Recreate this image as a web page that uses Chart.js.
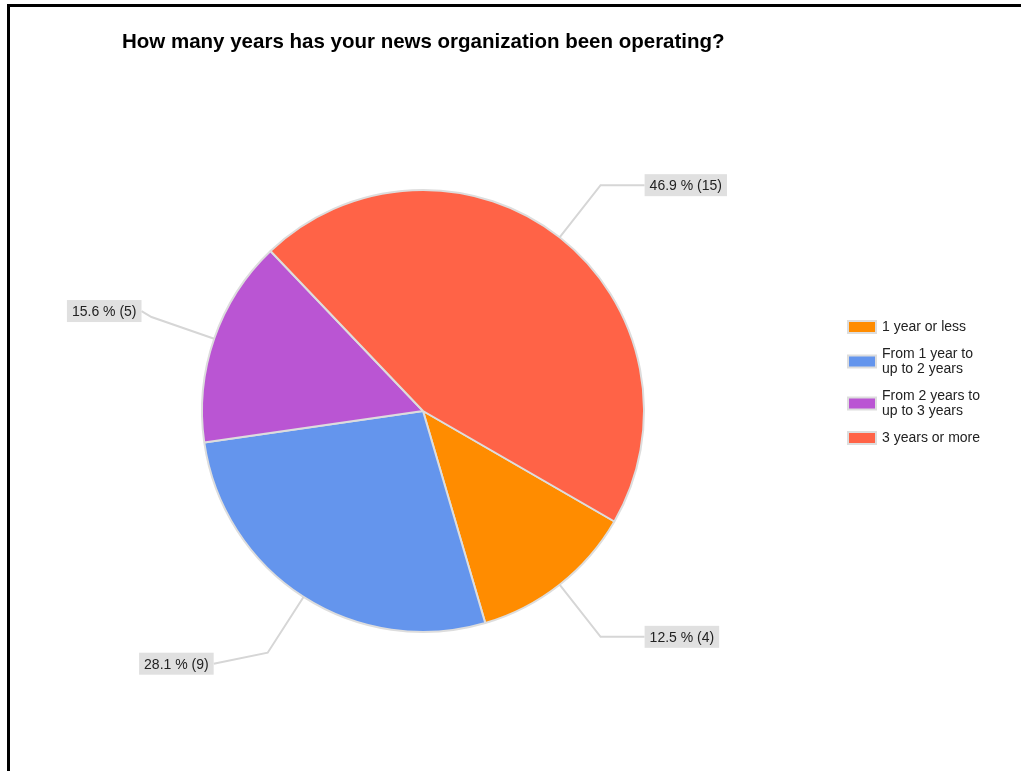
<!DOCTYPE html>
<html>
<head>
<meta charset="utf-8">
<script src="https://cdn.jsdelivr.net/npm/chart.js@4.4.0/dist/chart.umd.min.js"></script>
<style>
  body { margin: 0; background: #fff; }
  #wrap { position: relative; width: 1021px; height: 771px; }
  #frame { position: absolute; left: 7px; top: 4px; right: 0; bottom: 0;
           border-top: 3px solid #000; border-left: 3px solid #000; pointer-events: none; }
</style>
</head>
<body>
<div id="wrap">
  <canvas id="pie" width="1021" height="771"></canvas>
  <div id="frame"></div>
</div>
<script>
// ===== DATA =====
const chartTitle = "How many years has your news organization been operating?";
const categories = ["1 year or less", "From 1 year to up to 2 years", "From 2 years to up to 3 years", "3 years or more"];
const counts = [4, 9, 5, 15];
const percentLabels = ["12.5", "28.1", "15.6", "46.9"];
const colors = ["#ff8c00", "#6495ed", "#ba55d3", "#ff6347"];

const FONT = "Arial, 'Liberation Sans', sans-serif";

// ===== CUSTOM DRAWING (title, leader labels, legend) =====
const decorPlugin = {
  id: "decor",
  afterDatasetsDraw(chart, args, opts) {
    const ctx = chart.ctx;
    const meta = chart.getDatasetMeta(0);

    // title
    ctx.save();
    ctx.fillStyle = "#000";
    ctx.font = "bold 20.5px " + FONT;
    ctx.textBaseline = "alphabetic";
    ctx.fillText(chartTitle, 122, 48);

    // slice labels with leader lines
    ctx.font = "14px " + FONT;
    ctx.textBaseline = "middle";
    meta.data.forEach((arc, i) => {
      const p = arc.getProps(["x", "y", "startAngle", "endAngle", "outerRadius"], true);
      const mid = (p.startAngle + p.endAngle) / 2;
      const cx = Math.cos(mid), cy = Math.sin(mid);
      const sx = p.x + p.outerRadius * cx, sy = p.y + p.outerRadius * cy;
      const ex = p.x + p.outerRadius * opts.elbow * cx, ey = p.y + p.outerRadius * opts.elbow * cy;
      const dir = cx >= 0 ? 1 : -1;
      const ly = ey + opts.labelDy[i];
      const lx = ex + dir * opts.leaderLen[i];

      ctx.strokeStyle = "#d6d6d6";
      ctx.lineWidth = 2;
      ctx.beginPath();
      ctx.moveTo(sx, sy);
      ctx.lineTo(ex, ey);
      ctx.lineTo(lx, ly);
      ctx.stroke();

      const text = percentLabels[i] + " % (" + counts[i] + ")";
      const w = ctx.measureText(text).width + 10;
      const h = 22;
      const bx = dir > 0 ? lx : lx - w;
      ctx.fillStyle = "#e0e0e0";
      ctx.fillRect(bx, ly - h / 2, w, h);
      ctx.fillStyle = "#222";
      ctx.textAlign = "left";
      ctx.fillText(text, bx + 5, ly + 1);
    });

    // legend
    let y = 327;
    ctx.font = "14px " + FONT;
    categories.forEach((label, i) => {
      const lines = wrapText(ctx, label, 104);
      const blockH = (lines.length - 1) * 15;
      const boxY = y + blockH / 2;
      ctx.fillStyle = "#dddddd";
      ctx.fillRect(847, boxY - 7, 30, 14);
      ctx.fillStyle = colors[i];
      ctx.fillRect(849, boxY - 5, 26, 10);
      ctx.fillStyle = "#222";
      lines.forEach((ln, k) => ctx.fillText(ln, 882, y + k * 15));
      y += blockH + 27;
    });
    ctx.restore();
  }
};

function wrapText(ctx, text, maxW) {
  const words = text.split(" ");
  const lines = [];
  let cur = "";
  words.forEach(wd => {
    const test = cur ? cur + " " + wd : wd;
    if (cur && ctx.measureText(test).width > maxW) {
      lines.push(cur);
      cur = wd;
    } else {
      cur = test;
    }
  });
  if (cur) lines.push(cur);
  return lines;
}

// ====== Chart.js INIT ======
const pieChart = new Chart(document.getElementById("pie"), {
  type: "pie",
  data: {
    labels: categories,
    datasets: [{
      data: counts,
      backgroundColor: colors,
      borderColor: "#dddddd",
      borderWidth: 2
    }]
  },
  options: {
    responsive: false,
    animation: false,
    rotation: 120,
    layout: { padding: { left: 201, top: 189, right: 376, bottom: 138 } },
    plugins: {
      legend: { display: false },
      title: { display: false },
      tooltip: { enabled: false },
      decor: { elbow: 1.3, leaderLen: [44, 54, 10, 44], labelDy: [0, 11, -6, 0] }
    }
  },
  plugins: [decorPlugin]
});
</script>
</body>
</html>
